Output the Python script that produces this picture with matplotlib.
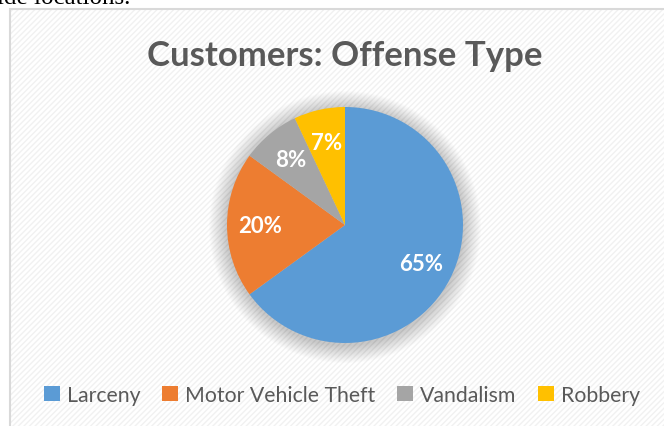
import matplotlib.pyplot as plt
from matplotlib.patches import Rectangle, Circle

labels = ['Larceny', 'Motor Vehicle Theft', 'Vandalism', 'Robbery']
shares = [65, 20, 8, 7]
colors = ['#5B9BD5', '#ED7D31', '#A5A5A5', '#FFC000']
title = 'Customers: Offense Type'

W, H = 664, 427
fig = plt.figure(figsize=(W / 100, H / 100), dpi=100)
ax = fig.add_axes([0, 0, 1, 1])


def py(y):
    # pixel row (from top) to data y
    return H - y


# leftover document text clipped at the top, as in the source screenshot
ax.text(-3, py(4), 'ide locations.', family='Liberation Serif', fontsize=18,
        color='black', va='baseline', ha='left', clip_on=True)

# chart area with faint diagonal stripes and a light border
ax.add_patch(Rectangle((10, -5), W, py(10) + 5, facecolor='white',
                       edgecolor='none', zorder=0))
ax.add_patch(Rectangle((10, -5), W, py(10) + 5, facecolor='none',
                       edgecolor='#F1F1F1', hatch='//////', linewidth=0, zorder=0.5))
ax.add_patch(Rectangle((10, -5), W, py(10) + 5, facecolor='none',
                       edgecolor='#D9D9D9', linewidth=1.5, zorder=1))

cx, cy, r = 345, py(226), 118

# soft glow behind the pie
for k in range(18, 0, -1):
    ax.add_patch(Circle((cx, cy - 2), r + k, facecolor='black', edgecolor='none',
                        alpha=0.011, zorder=1.5))

wedges, texts, autotexts = ax.pie(
    shares, colors=colors, startangle=90, counterclock=False,
    center=(cx, cy), radius=r, autopct='%1.0f%%', pctdistance=0.72,
    wedgeprops=dict(linewidth=0), frame=True,
    textprops=dict(color='white', fontsize=16, fontweight='bold', family='Lato'))
for w in wedges:
    w.set_zorder(2)
for t in autotexts:
    t.set_zorder(3)

ax.set_xlim(0, W)
ax.set_ylim(0, H)
ax.set_aspect('equal')
ax.axis('off')

ax.text(345, py(56), title, ha='center', va='center', fontsize=25,
        fontweight='bold', color='#595959', family='Lato')

leg = fig.legend(wedges, labels, loc='center', bbox_to_anchor=(342 / W, 1 - 396 / H),
                 ncol=4, frameon=False, handlelength=0.75, handleheight=0.75,
                 handletextpad=0.3, columnspacing=1.05,
                 prop=dict(family='Lato', size=15.3))
for t in leg.get_texts():
    t.set_color('#595959')

fig.savefig('out.png', dpi=100)
